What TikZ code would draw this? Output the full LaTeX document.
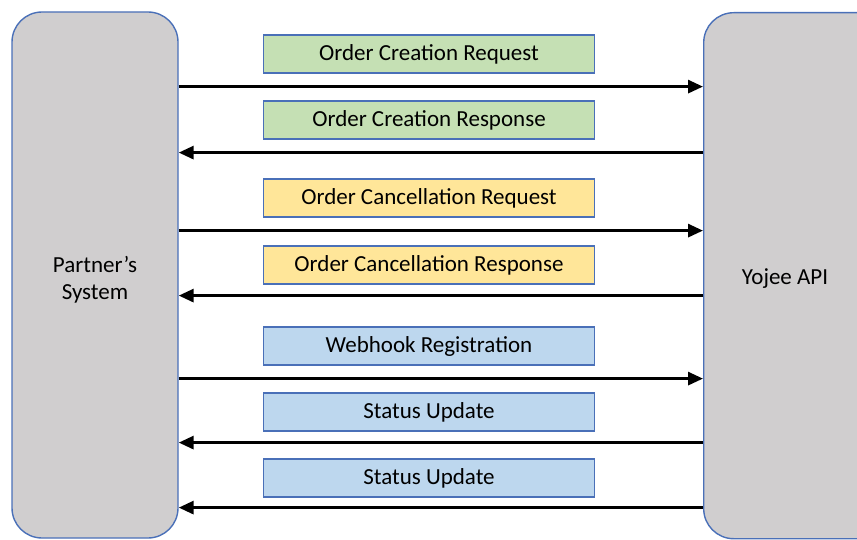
\documentclass[tikz,border=0pt]{standalone}
\usepackage{fontspec}
\setmainfont{Carlito}
\usetikzlibrary{arrows.meta}

\definecolor{sysgray}{HTML}{D0CECF}
\definecolor{edgeblue}{HTML}{4A70B8}
\definecolor{msggreen}{HTML}{C5E0B4}
\definecolor{msgyellow}{HTML}{FFE699}
\definecolor{msgblue}{HTML}{BDD7EE}

\begin{document}
\begin{tikzpicture}[x=1pt, y=-1pt, >={Triangle[length=15pt,width=13pt]},
        sys/.style={draw=edgeblue, line width=1.4pt, fill=sysgray, rounded corners=30pt},
        systxt/.style={font=\fontsize{23}{27}\selectfont, align=center},
        msg/.style={draw=edgeblue, line width=1.2pt, minimum width=331pt, minimum height=38pt, inner sep=0pt, font=\fontsize{23}{27}\selectfont},
        flow/.style={->, line width=3pt}]
        \useasboundingbox (0,0) rectangle (857,540);
        \clip (0,0) rectangle (857,540);
        \node[sys, minimum width=166pt, minimum height=526pt] (partner) at (95,275) {};
        \node[systxt] (partnertxt) at (95,280) {Partner’s\\System};
        \node[sys, minimum width=200pt, minimum height=526pt, anchor=north west] (yojee) at (703,12) {};
        \node[systxt] (yojeetxt) at (785,279) {Yojee API};
        \node[msg, fill=msggreen] (creq) at (429,54) {\raisebox{-1pt}{Order Creation Request}};
        \node[msg, fill=msggreen] (cres) at (429,120) {\raisebox{-1pt}{Order Creation Response}};
        \node[msg, fill=msgyellow] (xreq) at (429,198) {\raisebox{-1pt}{Order Cancellation Request}};
        \node[msg, fill=msgyellow] (xres) at (429,265) {\raisebox{-1pt}{Order Cancellation Response}};
        \node[msg, fill=msgblue] (hook) at (429,346) {\raisebox{-1pt}{Webhook Registration}};
        \node[msg, fill=msgblue] (stat1) at (429,412) {\raisebox{-1pt}{Status Update}};
        \node[msg, fill=msgblue] (stat2) at (429,478) {\raisebox{-1pt}{Status Update}};
        \path (creq.south) ++(0,13) coordinate (a1);
        \path (cres.south) ++(0,13) coordinate (a2);
        \path (xreq.south) ++(0,13) coordinate (a3);
        \path (xres.south) ++(0,11) coordinate (a4);
        \path (hook.south) ++(0,13) coordinate (a5);
        \path (stat1.south) ++(0,11) coordinate (a6);
        \path (stat2.south) ++(0,10) coordinate (a7);
        \draw[flow] (partner.east |- a1) -- (yojee.west |- a1);
        \draw[flow] (yojee.west |- a2) -- (partner.east |- a2);
        \draw[flow] (partner.east |- a3) -- (yojee.west |- a3);
        \draw[flow] (yojee.west |- a4) -- (partner.east |- a4);
        \draw[flow] (partner.east |- a5) -- (yojee.west |- a5);
        \draw[flow] (yojee.west |- a6) -- (partner.east |- a6);
        \draw[flow] (yojee.west |- a7) -- (partner.east |- a7);
    \end{tikzpicture}
\end{document}
